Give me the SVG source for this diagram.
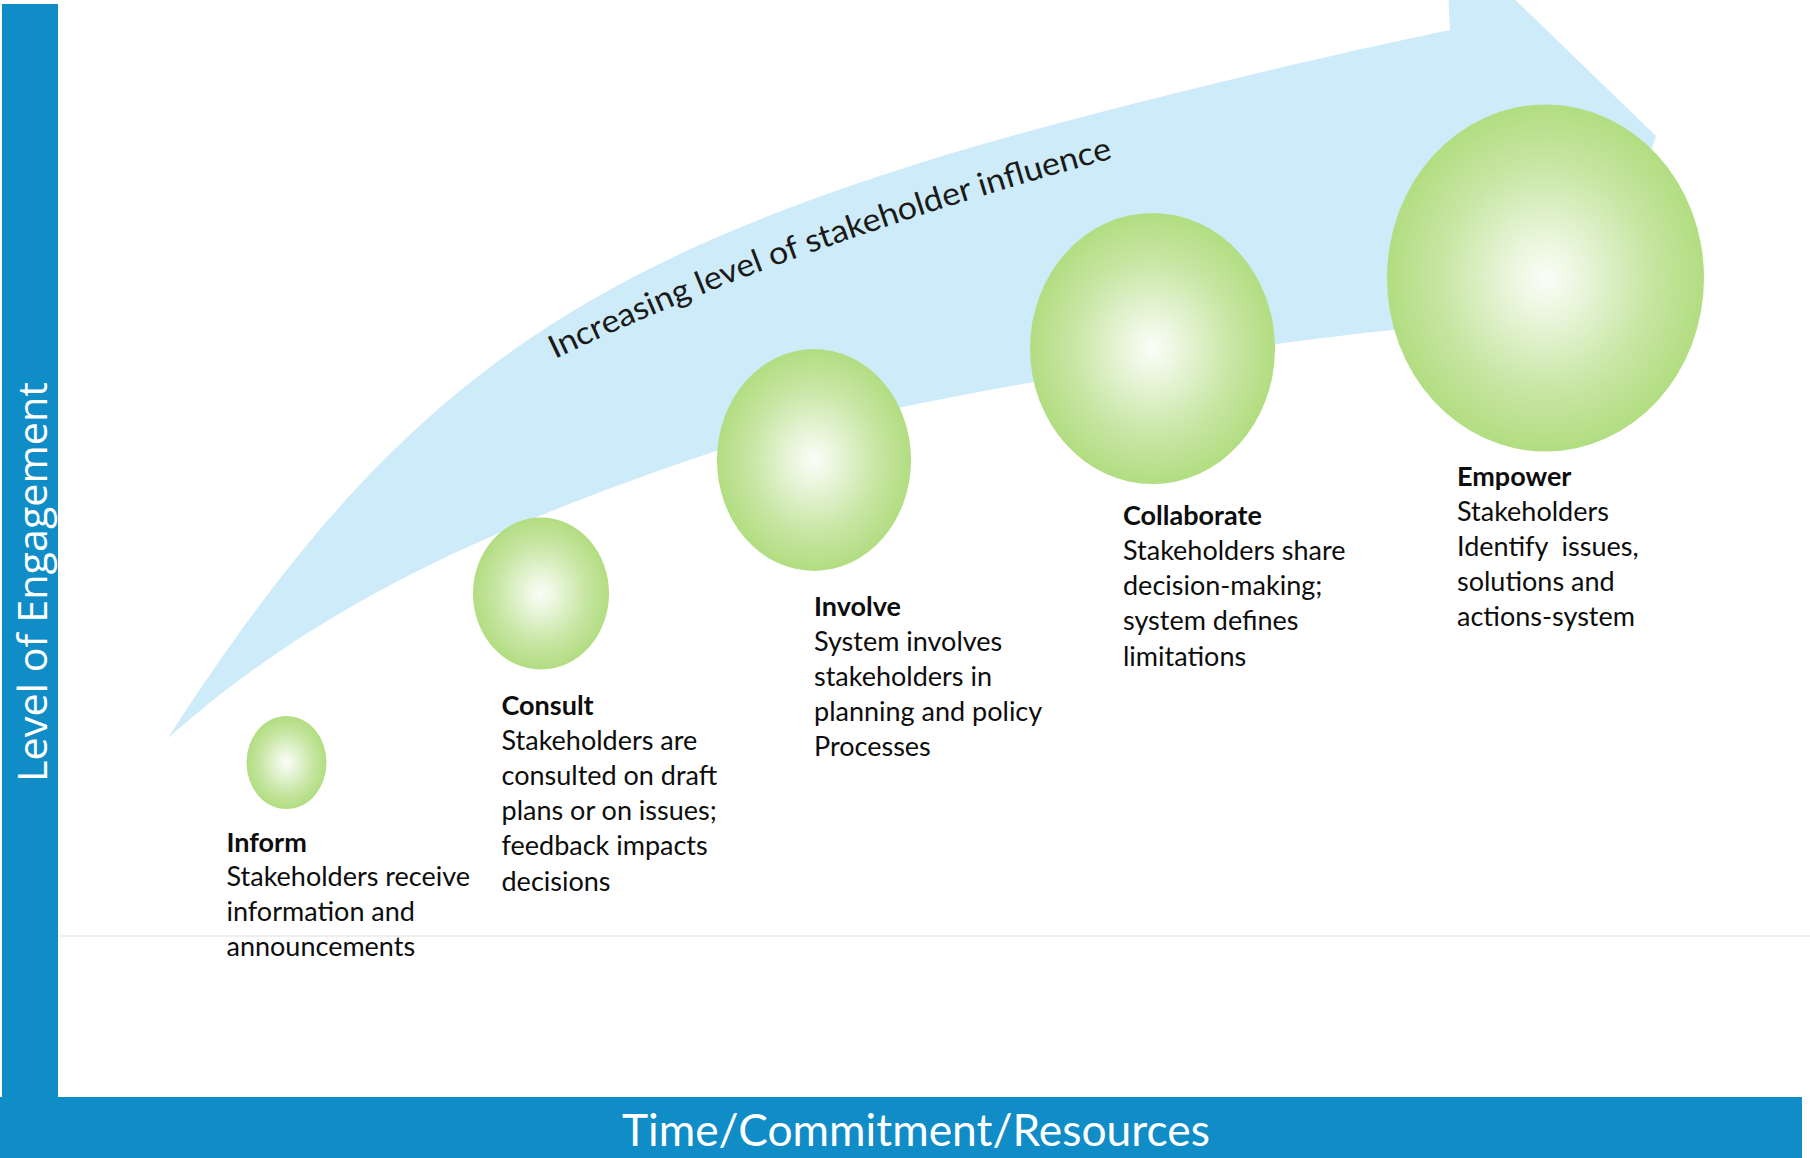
<svg xmlns="http://www.w3.org/2000/svg" width="1810" height="1158" viewBox="0 0 1810 1158">
<style>
.axis{fill:#108cc6}
.axlbl{fill:#ffffff;font-family:"Open Sans","DejaVu Sans",sans-serif}
.ball{fill:url(#ballGrad)}
.body{font-family:Lato,"Liberation Sans",sans-serif;font-size:27px;fill:#0d0d0d}
.ttl{font-weight:bold}
.band{fill:#cdebf8}
.infl{font-family:Lato,"Liberation Sans",sans-serif;font-size:32px;font-weight:normal;fill:#1a1a1a}
</style>
<defs>
<radialGradient id="ballGrad" cx="0.5" cy="0.5" r="0.5">
<stop offset="0" stop-color="#fbfdf8"/>
<stop offset="0.25" stop-color="#e8f5d9"/>
<stop offset="0.65" stop-color="#c8e6a4"/>
<stop offset="1" stop-color="#b2dd81"/>
</radialGradient>
<path id="inflPath" d="M 555,359 Q 790,246 1114,158"/>
</defs>
<rect width="1810" height="1158" fill="#ffffff"/>
<line x1="58" y1="936" x2="1810" y2="936" stroke="#efefef" stroke-width="2"/>
<g id="connectors">
<path class="band" d="M 168,738 C 382.5,404.7 556.6,277.2 923,162 C 1060,119 1309,59 1450,30 L 1448,-10 L 1505,-10 L 1656,136 L 1600,300 L 1420,328 L 1393,330 C 1200,350 900,400 716,451 C 487,528 316.5,606 168,738 Z"/>
<text class="infl"><textPath href="#inflPath" textLength="594" lengthAdjust="spacingAndGlyphs">Increasing level of stakeholder influence</textPath></text>
</g>
<g id="y-axis">
<rect class="axis" x="2" y="4" width="56" height="1154"/>
<text class="axlbl" font-size="40" transform="translate(47,782) rotate(-90)" textLength="400" lengthAdjust="spacingAndGlyphs">Level of Engagement</text>
</g>
<g id="x-axis">
<rect class="axis" x="0" y="1097" width="1802" height="61"/>
<text class="axlbl" font-size="44" x="622" y="1146" textLength="588" lengthAdjust="spacingAndGlyphs" style="font-family:Lato,'Liberation Sans',sans-serif">Time/Commitment/Resources</text>
</g>
<g id="inform">
<ellipse class="ball" cx="286.5" cy="762.5" rx="40" ry="46.5"/>
<text class="body" x="226.5" y="851.5"><tspan class="ttl">Inform</tspan><tspan x="226.5" dy="34.8">Stakeholders receive</tspan><tspan x="226.5" dy="35">information and</tspan><tspan x="226.5" dy="35">announcements</tspan></text>
</g>
<g id="consult">
<ellipse class="ball" cx="541" cy="593.5" rx="68" ry="76"/>
<text class="body" x="501.5" y="715"><tspan class="ttl">Consult</tspan><tspan x="501.5" dy="35">Stakeholders are</tspan><tspan x="501.5" dy="35">consulted on draft</tspan><tspan x="501.5" dy="35">plans or on issues;</tspan><tspan x="501.5" dy="35">feedback impacts</tspan><tspan x="501.5" dy="35.5">decisions</tspan></text>
</g>
<g id="involve">
<ellipse class="ball" cx="814" cy="460" rx="97" ry="111"/>
<text class="body" x="814" y="616"><tspan class="ttl">Involve</tspan><tspan x="814" dy="35.3">System involves</tspan><tspan x="814" dy="35">stakeholders in</tspan><tspan x="814" dy="34.5">planning and policy</tspan><tspan x="814" dy="35">Processes</tspan></text>
</g>
<g id="collaborate">
<ellipse class="ball" cx="1152.5" cy="348.5" rx="122.5" ry="135.5"/>
<text class="body" x="1123" y="525"><tspan class="ttl">Collaborate</tspan><tspan x="1123" dy="35">Stakeholders share</tspan><tspan x="1123" dy="35">decision-making;</tspan><tspan x="1123" dy="35">system defines</tspan><tspan x="1123" dy="35.5">limitations</tspan></text>
</g>
<g id="empower">
<ellipse class="ball" cx="1545.5" cy="278" rx="158.5" ry="173.5"/>
<text class="body" x="1457" y="486"><tspan class="ttl">Empower</tspan><tspan x="1457" dy="35">Stakeholders</tspan><tspan x="1457" dy="35" xml:space="preserve">Identify  issues,</tspan><tspan x="1457" dy="34.5">solutions and</tspan><tspan x="1457" dy="35">actions-system</tspan></text>
</g>
</svg>
